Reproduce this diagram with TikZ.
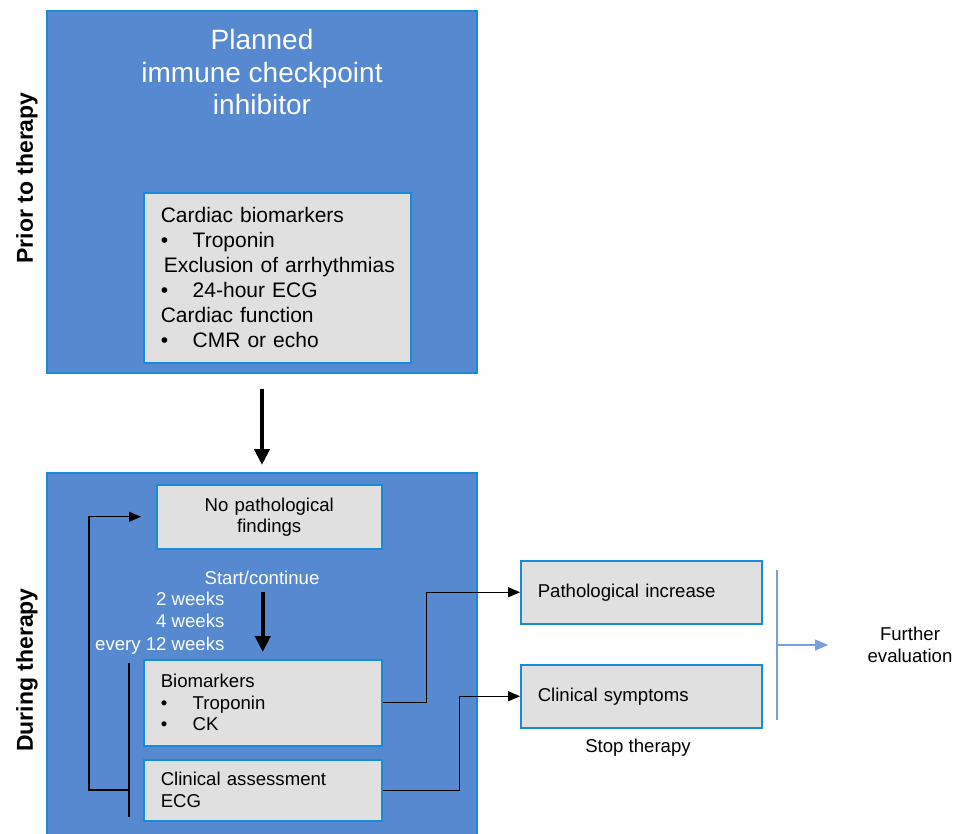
\documentclass[tikz,border=0pt]{standalone}
\usepackage{fontspec}
\setmainfont{Liberation Sans}
\usetikzlibrary{arrows.meta}

\definecolor{panelblue}{RGB}{86,137,207}
\definecolor{panelborder}{RGB}{20,140,215}
\definecolor{boxgray}{RGB}{224,224,224}
\definecolor{lightarrow}{RGB}{118,160,220}

\newcommand{\bodyfont}{\fontsize{18.6}{25}\selectfont}
\newcommand{\blt}{\makebox[32pt][l]{\textbullet}}

\tikzset{
    panel/.style={draw=panelborder, line width=1.5pt, fill=panelblue, anchor=north west, inner sep=0pt},
    box/.style={draw=panelborder, line width=1.5pt, fill=boxgray, anchor=north west,
        inner xsep=17pt, inner ysep=0pt, align=left, font=\bodyfont},
    bigarrow/.style={line width=4.5pt, -{Triangle[width=15pt,length=16pt]}},
    flow/.style={line width=1.2pt, -{Triangle[width=10pt,length=12pt]}},
    side/.style={rotate=90, font=\fontsize{23}{26}\selectfont\bfseries},
}

\begin{document}
\begin{tikzpicture}[x=1pt, y=-1pt]
    \useasboundingbox (0,0) rectangle (966,833);

    % panels
    \node[panel, minimum width=430pt, minimum height=362pt] (prior) at (46,10) {};
    \node[panel, minimum width=430pt, minimum height=362pt] (during) at (46,472) {};
    \node[side] (priorlbl) at (27,178) {Prior to therapy};
    \node[side] (duringlbl) at (27,670) {During therapy};

    % prior to therapy
    \node[text=white, align=center, font=\fontsize{28}{32.5}\selectfont] (title) at (262,72)
        {Planned\\immune checkpoint\\inhibitor};
    \node[box, text width=233pt, minimum height=170pt, font=\fontsize{21}{25}\selectfont] (baseline) at (143,192)
        {Cardiac biomarkers\\
         \blt Troponin\\
         \mbox{\hspace*{3pt}Exclusion of arrhythmias}\\
         \blt 24-hour ECG\\
         Cardiac function\\
         \blt CMR or echo};

    \draw[bigarrow, shorten <=15pt, shorten >=7pt] (prior.south -| title) -- (during.north -| title);

    % during therapy
    \node[box, align=center, text width=191pt, minimum height=64pt,
          font=\fontsize{18.6}{21}\selectfont] (nopath) at (156,484) {No pathological\\findings};
    \node[text=white, font=\bodyfont] (start) at (262,578) {Start/continue};
    \node[text=white, align=right, anchor=east, font=\fontsize{18.6}{22.5}\selectfont] (weeks) at (228,623)
        {2 weeks\\4 weeks\\every 12 weeks};
    \node[box, text width=204pt, minimum height=86pt, font=\fontsize{18.6}{21.5}\selectfont] (bio) at (143,659)
        {Biomarkers\\ \blt Troponin\\ \blt CK};
    \node[box, text width=204pt, minimum height=61pt, font=\fontsize{18.6}{22}\selectfont] (clin) at (143,759)
        {Clinical assessment\\ECG};

    \draw[bigarrow, shorten <=4pt, shorten >=7pt] (start.south -| bio.north) -- (bio.north);

    % bracket and loop back
    \coordinate (brtop) at (129,663);
    \coordinate (brbot) at (129,817);
    \coordinate (loopstart) at (129,790);
    \draw[line width=1.2pt] (brtop) -- (brbot);
    \draw[flow, shorten >=15pt] (loopstart) -- ++(-40,0) |- (nopath.west);

    % outcomes
    \node[box, text width=207pt, minimum height=63pt] (incr) at (520,560) {Pathological increase};
    \node[box, text width=207pt, minimum height=63pt] (symp) at (520,664) {Clinical symptoms};
    \node[font=\bodyfont] (stop) at (638,748) {Stop therapy};

    \draw[flow] (bio.east) -- ++(44,0) |- (incr.west);
    \draw[flow] (clin.east) -- ++(77,0) |- (symp.west);

    % further evaluation
    \coordinate (fetop) at (777,570);
    \coordinate (febot) at (777,720);
    \coordinate (femid) at (777,645);
    \coordinate (fetip) at (828,645);
    \node[align=center, font=\fontsize{18.6}{22}\selectfont] (further) at (910,645) {Further\\evaluation};
    \draw[lightarrow, line width=1.5pt] (fetop) -- (febot);
    \draw[lightarrow, line width=1.5pt, -{Triangle[width=11pt,length=13pt]}] (femid) -- (fetip);
\end{tikzpicture}
\end{document}
